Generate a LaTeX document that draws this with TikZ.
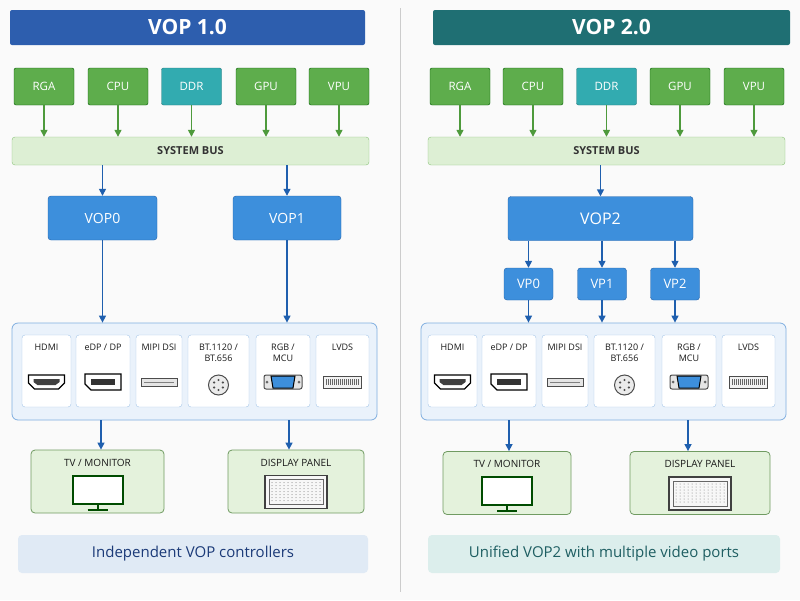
\documentclass[tikz,border=0pt]{standalone}
\usepackage{fontspec}
\setmainfont{Open Sans}
\usetikzlibrary{arrows.meta}
\definecolor{chipg}{HTML}{5EAD4C}
\definecolor{chipt}{HTML}{32ABB0}
\definecolor{busf}{HTML}{DDEFD4}
\definecolor{busb}{HTML}{8CC27A}
\definecolor{vopf}{HTML}{3D8FDC}
\definecolor{vopb}{HTML}{2160A8}
\definecolor{ifb}{HTML}{7FAEE0}
\definecolor{iff}{HTML}{EAF2FB}
\definecolor{outf}{HTML}{E4F2DC}
\definecolor{garr}{HTML}{4E9A3C}
\definecolor{barr}{HTML}{1F5FAE}
\definecolor{tblue}{HTML}{2D5EAE}
\definecolor{tteal}{HTML}{1F6F73}
\definecolor{banb}{HTML}{E0EAF5}
\definecolor{bant}{HTML}{DCEEEC}
\definecolor{navy}{HTML}{1B3A78}
\definecolor{tealtx}{HTML}{1E5E62}
\newcommand{\icHDMI}[1]{\begin{scope}[shift={#1}]
 \draw[black,line width=1.2pt,fill=white] (-18,-7) -- (18,-7) -- (18,1) -- (12,7) -- (-12,7) -- (-18,1) -- cycle;
 \fill[black!75] (-13,-3) -- (13,-3) -- (13,0) -- (9,3) -- (-9,3) -- (-13,0) -- cycle;\end{scope}}
\newcommand{\icDP}[1]{\begin{scope}[shift={#1}]
 \draw[black,line width=1.4pt,fill=white] (-18,-8) -- (18,-8) -- (18,8) -- (-12,8) -- (-18,2) -- cycle;
 \fill[black!80] (-12,-3) rectangle (12,3);\end{scope}}
\newcommand{\icMIPI}[1]{\begin{scope}[shift={#1}]
 \draw[black!70,line width=1pt,fill=black!10] (-18,-4) rectangle (18,4);
 \draw[black!50] (-15,0) -- (15,0);\end{scope}}
\newcommand{\icBT}[1]{\begin{scope}[shift={#1}]
 \draw[black!70,line width=1pt,fill=black!8] (0,0) circle (10);
 \foreach \a in {30,90,150,210,270,330} \fill[black!70] (\a:5) circle (1.2);\end{scope}}
\newcommand{\icVGA}[1]{\begin{scope}[shift={#1}]
 \draw[black!70,line width=1pt,fill=black!10,rounded corners=2pt] (-19,-7) rectangle (19,7);
 \draw[black,line width=1pt,fill=vopf] (-12,-6) -- (12,-6) -- (10,6) -- (-10,6) -- cycle;
 \fill[black!60] (-16,0) circle (1.5) (16,0) circle (1.5);\end{scope}}
\newcommand{\icLVDS}[1]{\begin{scope}[shift={#1}]
 \draw[black!70,line width=1pt,fill=black!5] (-19,-6) rectangle (19,6);
 \foreach \i in {-16,-14,...,16} \draw[black!60] (\i,-3) -- (\i,3);\end{scope}}
\newcommand{\icTV}[1]{\begin{scope}[shift={#1}]
 \draw[green!30!black,line width=2pt,fill=white] (-25,-16) rectangle (25,12);
 \draw[green!30!black,line width=2pt] (0,12) -- (0,17) (-10,18) -- (10,18);\end{scope}}
\newcommand{\icPanel}[1]{\begin{scope}[shift={#1}]
 \draw[black!75,line width=1.2pt,fill=black!3] (-31,-16) rectangle (31,17);
 \draw[black!60] (-27,-12) rectangle (27,13);
 \foreach \i in {-24,-20,...,24} \foreach \j in {-9,-6,...,10} \fill[black!55] (\i,\j) circle (0.5);\end{scope}}
\begin{document}
\begin{tikzpicture}[x=1pt,y=-1pt,
 title/.style={rectangle,rounded corners=2pt,text=white,font=\bfseries\fontsize{21}{22}\selectfont,inner sep=0pt,minimum height=35pt},
 chip/.style={rectangle,rounded corners=2pt,draw=green!35!black,fill=chipg,text=white,font=\fontsize{11.5}{12}\selectfont,minimum width=60pt,minimum height=37pt,inner sep=0pt},
 ddr/.style={chip,fill=chipt,draw=chipt!70!black},
 bus/.style={rectangle,rounded corners=3pt,draw=busb,fill=busf,font=\bfseries\fontsize{11}{12}\selectfont,text=black!80,minimum height=28pt,inner sep=0pt},
 vop/.style={rectangle,rounded corners=3pt,draw=vopb,fill=vopf,text=white,font=\fontsize{14}{15}\selectfont,inner sep=0pt,minimum height=44pt},
 vp/.style={vop,font=\fontsize{13}{14}\selectfont,minimum width=49pt,minimum height=32pt},
 ifout/.style={rectangle,rounded corners=6pt,draw=ifb,fill=iff,line width=0.8pt,inner sep=0pt,minimum height=97pt},
 ifin/.style={rectangle,rounded corners=3pt,draw=ifb!70,fill=white,minimum height=72pt,inner sep=0pt},
 lab/.style={font=\fontsize{9}{11}\selectfont,text=black!90,align=center,anchor=north},
 outbox/.style={rectangle,rounded corners=4pt,draw=busb!80!black,fill=outf,minimum height=63pt,inner sep=0pt,line width=0.8pt},
 olab/.style={font=\fontsize{10}{11}\selectfont,text=black!90,anchor=north},
 gar/.style={-{Triangle[width=7pt,length=7pt]},draw=garr,line width=1.4pt},
 bar/.style={-{Triangle[width=7pt,length=7pt]},draw=barr,line width=1.4pt},
 banner/.style={rectangle,rounded corners=4pt,inner sep=0pt,minimum height=38pt,font=\fontsize{15}{16}\selectfont}
]
\fill[black!2] (0,0) rectangle (800,600);
\draw[black!20] (400,8) -- (400,592);
% titles
\node[title,fill=tblue,minimum width=355pt] (t1) at (187.5,27.5) {VOP 1.0};
\node[title,fill=tteal,minimum width=357pt] (t2) at (611.5,27.5) {VOP 2.0};
% chips
\foreach \n/\t/\x/\s in {a/RGA/44/chip,b/CPU/118/chip,c/DDR/191.5/ddr,d/GPU/266/chip,e/VPU/339/chip}{
 \node[\s] (L\n) at (\x,86.5) {\t};}
\foreach \n/\t/\x/\s in {a/RGA/460/chip,b/CPU/533/chip,c/DDR/606.5/ddr,d/GPU/680/chip,e/VPU/754/chip}{
 \node[\s] (R\n) at (\x,86.5) {\t};}
\node[bus,minimum width=357pt] (Lbus) at (190.5,151) {SYSTEM BUS};
\node[bus,minimum width=357pt] (Rbus) at (606.5,151) {SYSTEM BUS};
\foreach \n in {a,b,c,d,e}{
 \draw[gar] (L\n.south) -- (L\n.south |- Lbus.north);
 \draw[gar] (R\n.south) -- (R\n.south |- Rbus.north);}
% VOPs
\node[vop,minimum width=109pt] (vop0) at (102.5,218) {VOP0};
\node[vop,minimum width=108pt] (vop1) at (287,218) {VOP1};
\node[vop,minimum width=185pt,font=\fontsize{16}{17}\selectfont] (vop2) at (600.5,218.5) {VOP2};
\node[vp] (vp0) at (528.5,284) {VP0};
\node[vp] (vp1) at (602,284) {VP1};
\node[vp] (vp2) at (675,284) {VP2};
% interface boxes
\node[ifout,minimum width=365pt] (Lif) at (194.5,371.5) {};
\node[ifout,minimum width=365pt] (Rif) at (603.5,371.5) {};
\foreach \p/\o in {L/0,R/406}{
 \foreach \n/\a/\b in {h/22/71,e/76/130,m/136/182,t/188/249,r/256/310,v/316/369}{
  \node[ifin,minimum width={\b-\a}] (\p\n) at ({(\a+\b)/2+\o},371) {};}
 \node[lab] at ([yshift=-6]\p h.north) {HDMI};
 \node[lab] at ([yshift=-6]\p e.north) {eDP / DP};
 \node[lab] at ([yshift=-6]\p m.north) {MIPI DSI};
 \node[lab] at ([yshift=-6]\p t.north) {BT.1120 /\\BT.656};
 \node[lab] at ([yshift=-6]\p r.north) {RGB /\\MCU};
 \node[lab] at ([yshift=-6]\p v.north) {LVDS};
}
\foreach \p in {L,R}{
 \icHDMI{([yshift=-11]\p h.center)}
 \icDP{([yshift=-11]\p e.center)}
 \icMIPI{([yshift=-11]\p m.center)}
 \icBT{([yshift=-14]\p t.center)}
 \icVGA{([yshift=-11]\p r.center)}
 \icLVDS{([yshift=-11]\p v.center)}
}
% outputs
\node[outbox,minimum width=133pt] (Ltv) at (97.5,481.5) {};
\node[outbox,minimum width=136pt] (Lpn) at (296,481.5) {};
\node[outbox,minimum width=128pt] (Rtv) at (507,483) {};
\node[outbox,minimum width=140pt] (Rpn) at (700,483) {};
\foreach \n in {Ltv,Rtv}{
 \node[olab] at ([yshift=-6]\n.north) {TV / MONITOR};
 \icTV{([yshift=-10]\n.center)}}
\foreach \n in {Lpn,Rpn}{
 \node[olab] at ([yshift=-6]\n.north) {DISPLAY PANEL};
 \icPanel{([yshift=-10]\n.center)}}
% arrows
\draw[bar] (vop0.north |- Lbus.south) -- (vop0.north);
\draw[bar] (vop1.north |- Lbus.south) -- (vop1.north);
\draw[bar] (Rbus.south -| vop2.north) -- (vop2.north);
\draw[bar] (vop0.south) -- (vop0.south |- Lif.north);
\draw[bar] (vop1.south) -- (vop1.south |- Lif.north);
\foreach \v in {vp0,vp1,vp2}{
 \draw[bar] (vop2.south -| \v.north) -- (\v.north);
 \draw[bar] (\v.south) -- (\v.south |- Rif.north);}
\coordinate (a1) at (101,0); \coordinate (a2) at (289,0);
\coordinate (a3) at (509,0); \coordinate (a4) at (688,0);
\draw[bar] (Lif.south -| a1) -- (Ltv.north -| a1);
\draw[bar] (Lif.south -| a2) -- (Lpn.north -| a2);
\draw[bar] (Rif.south -| a3) -- (Rtv.north -| a3);
\draw[bar] (Rif.south -| a4) -- (Rpn.north -| a4);
% banners
\node[banner,fill=banb,text=navy,minimum width=350pt] (Lban) at (193,554) {Independent VOP controllers};
\node[banner,fill=bant,text=tealtx,minimum width=352pt] (Rban) at (604,554) {Unified VOP2 with multiple video ports};
\end{tikzpicture}
\end{document}
